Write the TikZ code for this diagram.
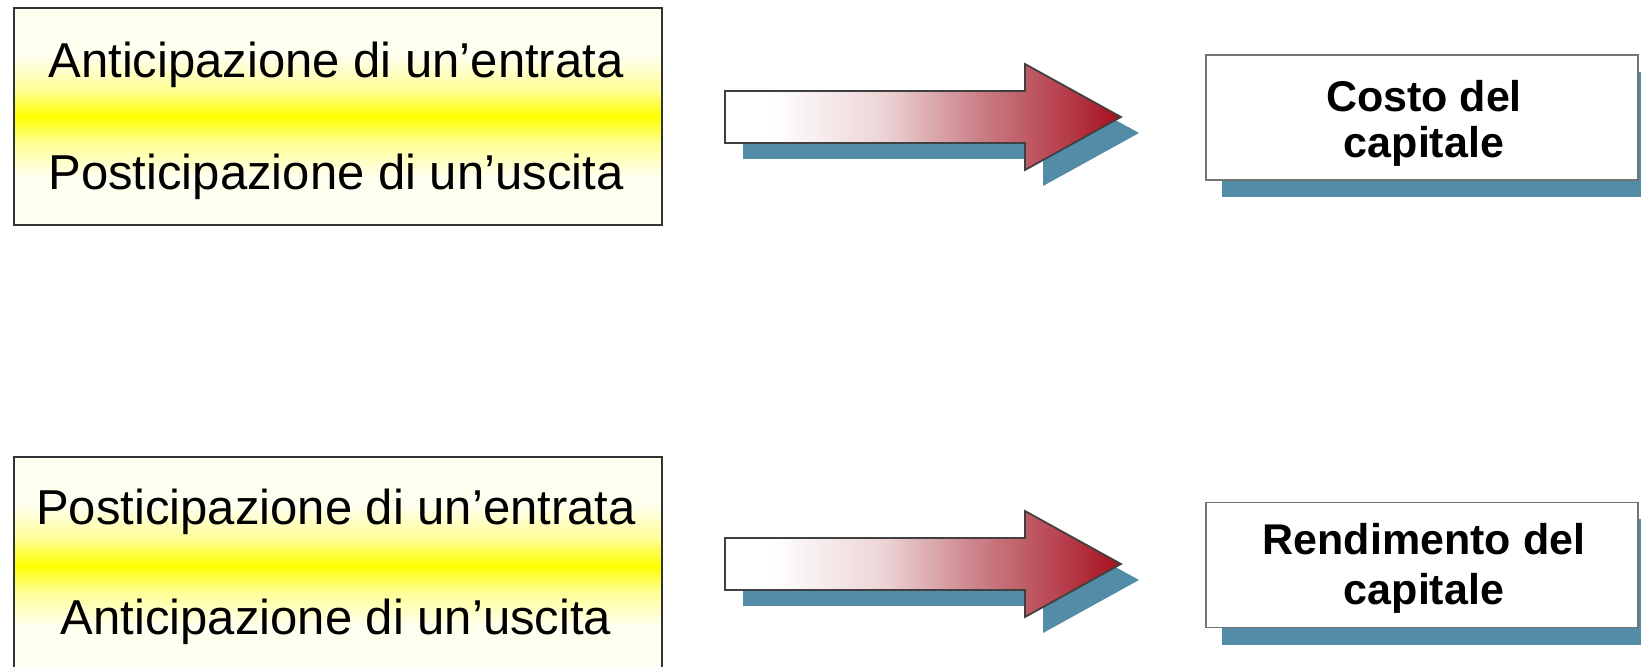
\documentclass[tikz,border=0pt]{standalone}
\usepackage{fontspec}
\setmainfont{Liberation Sans}
\usetikzlibrary{shadows}
\definecolor{cream}{RGB}{255,255,240}
\colorlet{ylight}{yellow!38!cream}
\definecolor{shadowblue}{RGB}{82,140,166}
\definecolor{arrowred}{RGB}{166,14,30}
\definecolor{redA}{RGB}{236,212,214}
\definecolor{redB}{RGB}{203,128,135}
\definecolor{redC}{RGB}{182,62,74}
\pgfdeclareverticalshading{yband}{100bp}{color(0bp)=(cream); color(36bp)=(cream); color(44bp)=(ylight); color(50bp)=(yellow); color(56bp)=(ylight); color(64bp)=(cream); color(100bp)=(cream)}
\pgfdeclarehorizontalshading{redfade}{100bp}{color(0bp)=(white); color(31bp)=(white); color(45bp)=(redA); color(57bp)=(redB); color(68bp)=(redC); color(75bp)=(arrowred); color(100bp)=(arrowred)}
\tikzset{
  bigarrow/.pic={
    \fill[shadowblue, shift={(18,16)}] (0,-26) -- (300,-26) -- (300,-53) -- (396,0) -- (300,53) -- (300,26) -- (0,26) -- cycle;
    \shade[shading=redfade, draw=black!75, line width=0.5pt, line join=miter]
      (0,-26) -- (300,-26) -- (300,-53) -- (396,0) -- (300,53) -- (300,26) -- (0,26) -- cycle;
  }
}
\begin{document}
\begin{tikzpicture}[x=0.01cm, y=-0.01cm,
  leftbox/.style={draw=black!80, line width=0.6pt, shade, shading=yband, minimum width=6.48cm, minimum height=2.17cm, inner sep=0pt},
  lefttext/.style={anchor=base, inner sep=0pt, font=\fontsize{13.94pt}{16pt}\selectfont},
  rightbox/.style={draw=black!55, line width=0.45pt, fill=white, minimum width=4.32cm, minimum height=1.25cm, inner sep=0pt, general shadow={fill=shadowblue, shadow xshift=0.16cm, shadow yshift=-0.17cm}},
  righttext/.style={anchor=base, inner sep=0pt, font=\bfseries\fontsize{12.23pt}{14pt}\selectfont},
]
\useasboundingbox (0,0) rectangle (1641,667);
\clip (0,0) rectangle (1641,667);
\fill[white] (0,0) rectangle (1641,667);

\node[leftbox] (lb1) at (338,116.5) {};
\node[lefttext] (l1a) at (336,78) {Anticipazione di un’entrata};
\node[lefttext] (l1b) at (336,190) {Posticipazione di un’uscita};
\node[leftbox] (lb2) at (338,565.5) {};
\node[lefttext] (l2a) at (336,525) {Posticipazione di un’entrata};
\node[lefttext] (l2b) at (336,635) {Anticipazione di un’uscita};

\pic (a1) at (725,117) {bigarrow};
\pic (a2) at (725,564) {bigarrow};

\node[rightbox] (rb1) at (1422,117.5) {};
\node[righttext] (r1a) at (1424,112) {Costo del};
\node[righttext] (r1b) at (1424,158) {capitale};
\node[rightbox] (rb2) at (1422,565) {};
\node[righttext] (r2a) at (1424,555) {Rendimento del};
\node[righttext] (r2b) at (1424,605) {capitale};
\end{tikzpicture}
\end{document}
